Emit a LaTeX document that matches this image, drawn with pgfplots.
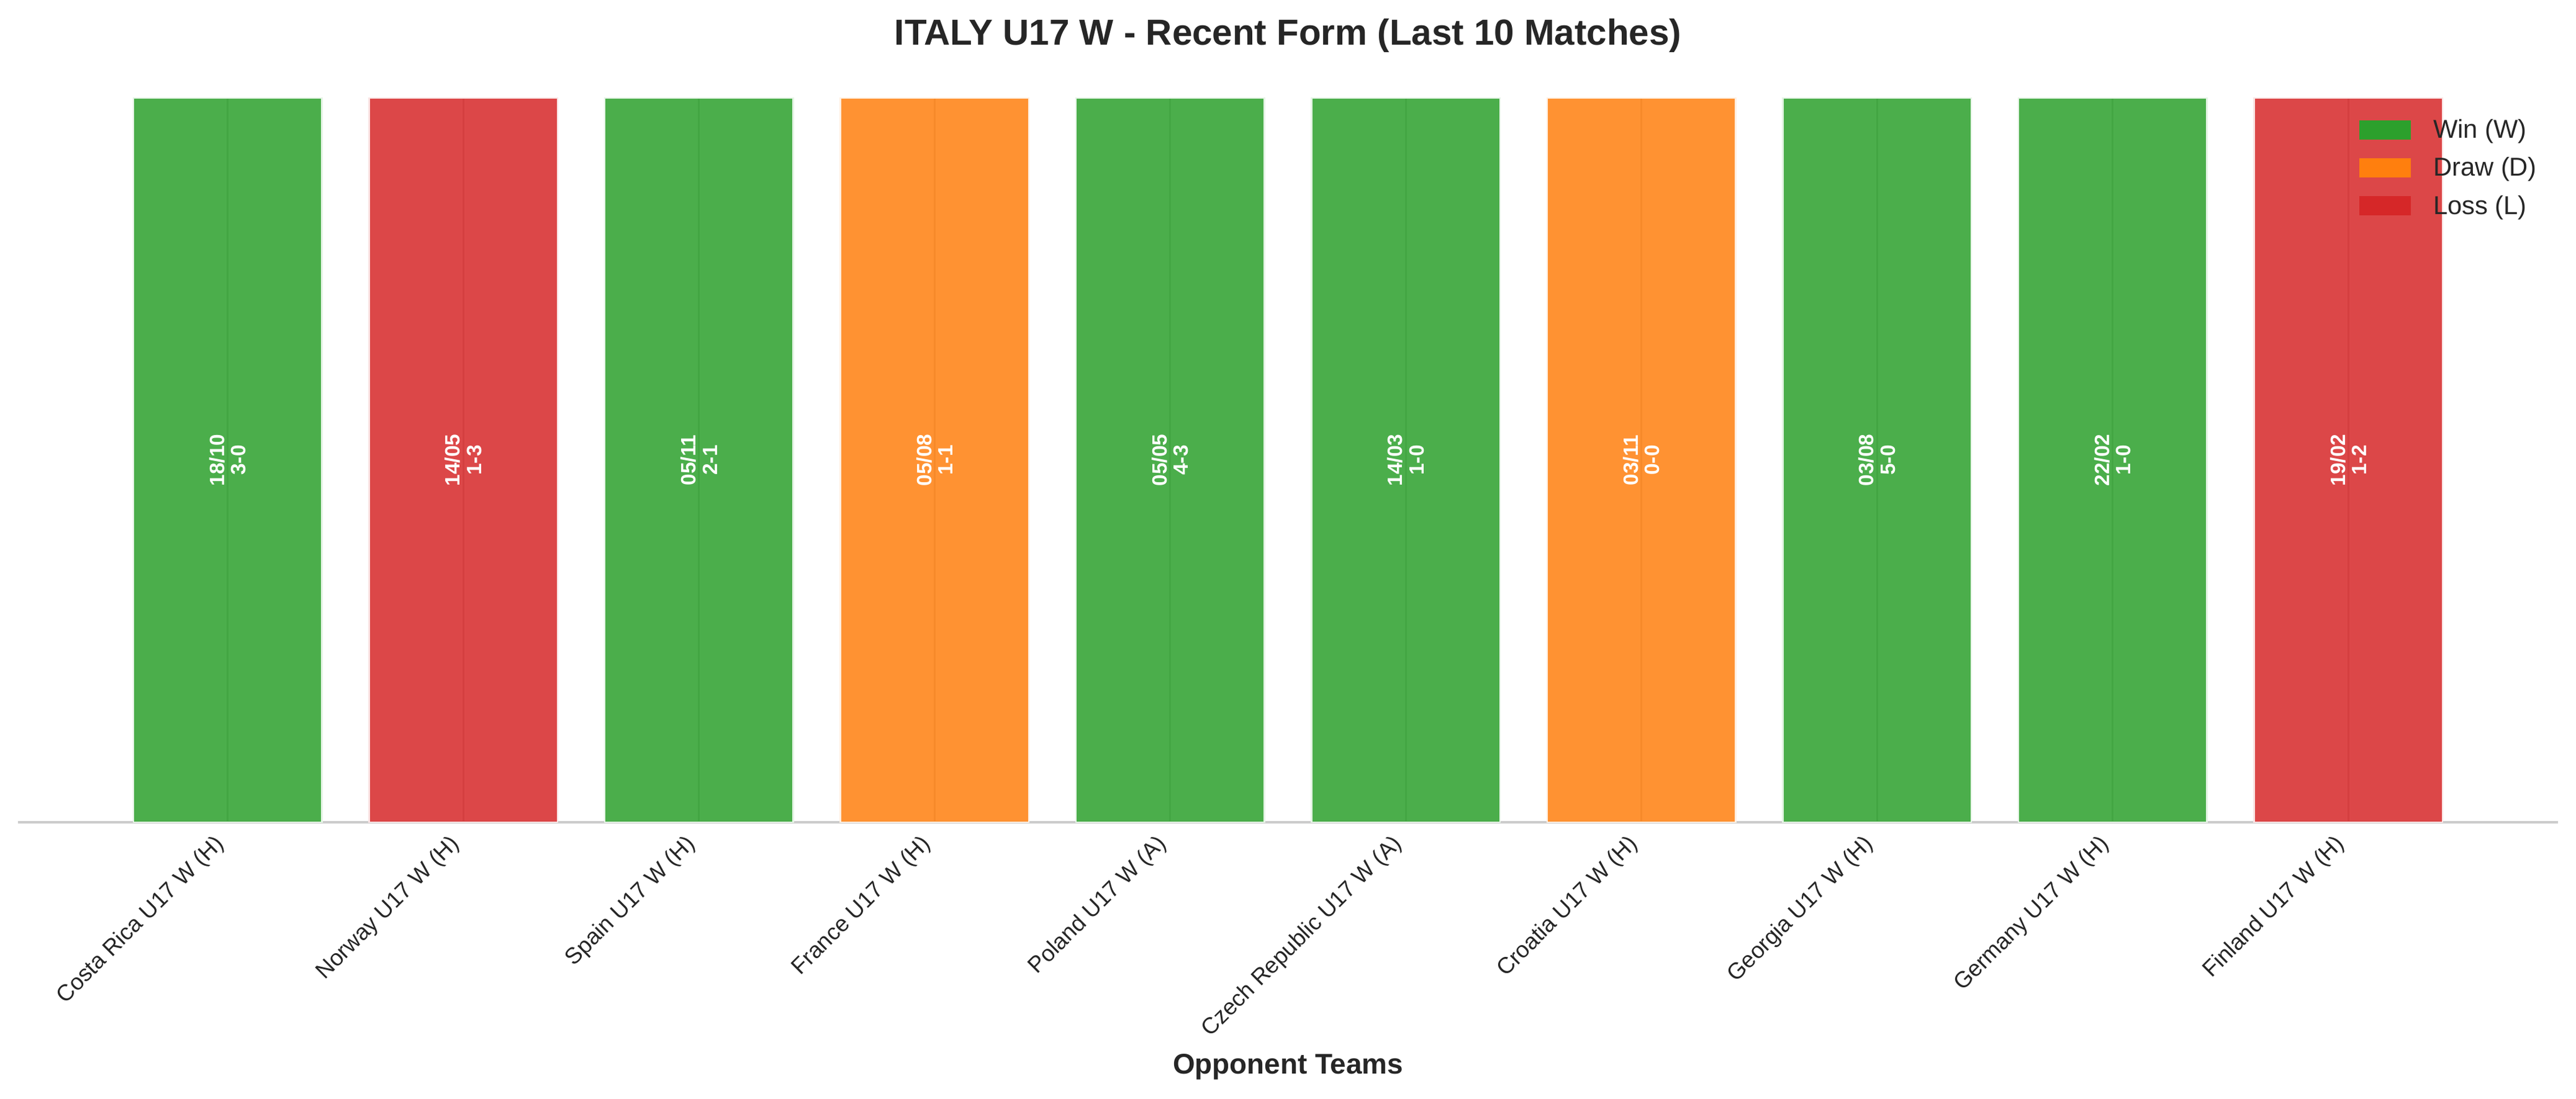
\documentclass[border=0pt]{standalone}
\usepackage{fontspec}
\setmainfont{Liberation Sans}
\usepackage{pgfplots}
\pgfplotsset{compat=1.18}
\definecolor{cW}{HTML}{2CA02C}
\definecolor{cD}{HTML}{FF7F0E}
\definecolor{cL}{HTML}{D62728}
\definecolor{txt}{HTML}{262626}
\definecolor{spine}{HTML}{CCCCCC}
\begin{document}
\begin{tikzpicture}
\begin{axis}[
 name=ax,
 width=981.8pt, height=280.1pt, scale only axis,
 xmin=-0.89, xmax=9.89, ymin=0, ymax=1,
 clip=false,
 axis x line*=bottom, axis y line=none,
 x axis line style={draw=spine, line width=1pt},
 ytick=\empty,
 xtick={0,...,9},
 xticklabels={Costa Rica U17 W (H), Norway U17 W (H), Spain U17 W (H), France U17 W (H), Poland U17 W (A), Czech Republic U17 W (A), Croatia U17 W (H), Georgia U17 W (H), Germany U17 W (H), Finland U17 W (H)},
 major tick length=0pt,
 xmajorgrids, grid style={draw=spine, line width=0.8pt},
 xticklabel style={font=\fontsize{8.8}{10.5}\selectfont, text=txt, inner sep=0pt, xshift=-5.7pt, yshift=-4pt, rotate=45, anchor=north east},
 xlabel={Opponent Teams},
 xlabel style={font=\fontsize{11}{13}\selectfont\bfseries, text=txt, at={(axis description cs:0.5,0)}, anchor=base, yshift=-97.3pt},
 title={ITALY U17 W - Recent Form (Last 10 Matches)},
 title style={font=\fontsize{14}{17}\selectfont\bfseries, text=txt, at={(axis description cs:0.5,1)}, anchor=base, yshift=14.4pt},
 legend style={at={(0.9218,0.9702)}, anchor=north west, draw=none, fill=none, inner sep=0pt, outer sep=0pt, row sep=5.3pt, column sep=8.6pt, font=\fontsize{10}{12}\selectfont, text=txt, nodes={inner sep=0pt, text height=7.2pt, text depth=2.2pt}},
 legend cell align=left,
 legend image code/.code={\fill[#1, fill opacity=1, draw=none] (0pt,-3pt) rectangle (20pt,4.5pt);},
]
\addplot[ybar, bar width=0.8, fill=cW, fill opacity=0.85, draw=cW!12, line width=0.6pt] coordinates {(0,1) (2,1) (4,1) (5,1) (7,1) (8,1)};
\addlegendentry{Win (W)}
\addplot[ybar, bar width=0.8, fill=cD, fill opacity=0.85, draw=cD!12, line width=0.6pt] coordinates {(3,1) (6,1)};
\addlegendentry{Draw (D)}
\addplot[ybar, bar width=0.8, fill=cL, fill opacity=0.85, draw=cL!12, line width=0.6pt] coordinates {(1,1) (9,1)};
\addlegendentry{Loss (L)}
\addplot[draw=none, forget plot, point meta=explicit symbolic, nodes near coords,
  nodes near coords style={rotate=90, anchor=center, font=\fontsize{8}{8.3}\selectfont\bfseries, text=white, align=center, inner sep=0pt}]
  coordinates {
  (0,0.5) [{18/10\\3-0}]
  (1,0.5) [{14/05\\1-3}]
  (2,0.5) [{05/11\\2-1}]
  (3,0.5) [{05/08\\1-1}]
  (4,0.5) [{05/05\\4-3}]
  (5,0.5) [{14/03\\1-0}]
  (6,0.5) [{03/11\\0-0}]
  (7,0.5) [{03/08\\5-0}]
  (8,0.5) [{22/02\\1-0}]
  (9,0.5) [{19/02\\1-2}]
  };
\end{axis}
\pgfresetboundingbox
\useasboundingbox ([xshift=-6.96pt,yshift=-106.8pt]ax.south west) rectangle ([xshift=6.96pt,yshift=37.9pt]ax.north east);
\end{tikzpicture}
\end{document}
